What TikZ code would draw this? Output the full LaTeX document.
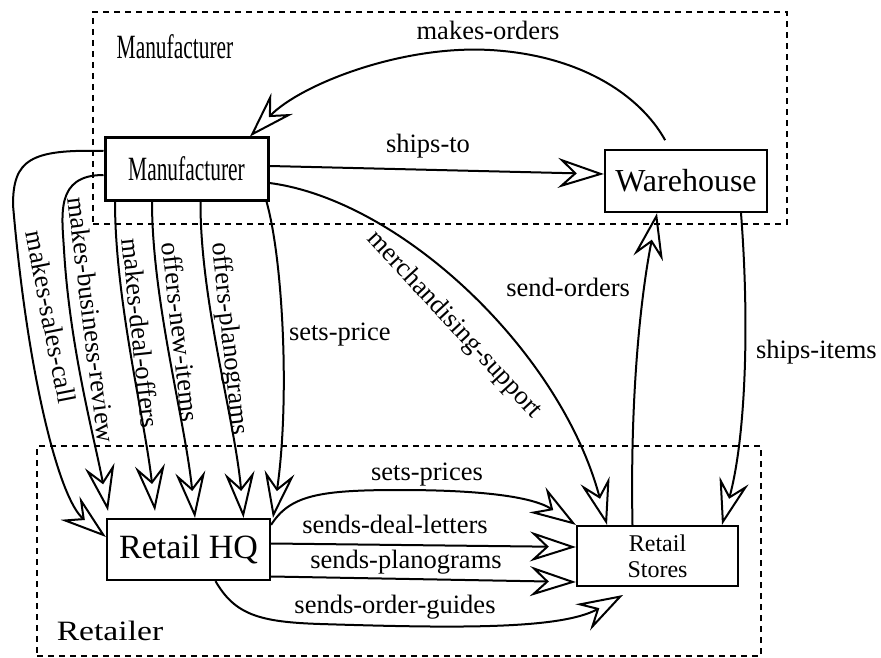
\documentclass[tikz,border=0pt]{standalone}
\usepackage{fontspec}
\usepackage{graphicx}
\setmainfont{Liberation Serif}
\usetikzlibrary{arrows.meta}

\begin{document}
\begin{tikzpicture}[x=1pt,y=-1pt,
  box/.style={draw, line width=2.2pt, inner sep=0pt},
  group/.style={draw, line width=2pt, dash pattern=on 6pt off 5pt, inner sep=0pt},
  flow/.style={line width=2pt,
    -{Stealth[open, length=46pt, width=30pt, inset=16pt, line width=2pt]}},
  lbl/.style={font=\fontsize{26.5}{30}\selectfont, inner sep=0pt},
  condensed/.style={font=\fontsize{34}{40}\selectfont},
]
\useasboundingbox (0,0) rectangle (881,658);

% organisation boundaries
\node[group, minimum width=694pt, minimum height=212pt] (mgroup) at (440,118) {};
\node[group, minimum width=724pt, minimum height=210pt] (rgroup) at (399,551) {};
\node[condensed] (mtitle) at (175,47) {\scalebox{0.63}[1]{Manufacturer}};
\node[font=\fontsize{28}{32}\selectfont] (rtitle) at (110,631) {\scalebox{1.2}[1]{Retailer}};

% actors
\node[box, line width=3pt, minimum width=163pt, minimum height=62pt, condensed]
  (mfr) at (186.5,169) {\scalebox{0.63}[1]{Manufacturer}};
\node[box, minimum width=162pt, minimum height=62pt, font=\fontsize{32}{36}\selectfont]
  (wh) at (686,181) {Warehouse};
\node[box, minimum width=163pt, minimum height=61pt, font=\fontsize{34}{38}\selectfont]
  (hq) at (188.5,549.5) {Retail HQ};
\node[box, minimum width=161pt, minimum height=60pt, align=center, font=\fontsize{24}{26}\selectfont]
  (rs) at (657.5,556) {Retail\\Stores};
\coordinate (og) at (623,595);

% manufacturer side
\draw[flow, shorten <=10pt] ([xshift=-16pt]wh.north) .. controls (640,95) and (580,55) .. (490,50)
  .. controls (400,45) and (300,85) .. ([xshift=63.5pt]mfr.north)
  node[lbl, anchor=base] (l1) at (488,40) {makes-orders};
\draw[flow] ([yshift=3pt]mfr.east) -- ([yshift=7pt]wh.west)
  node[lbl, anchor=base] (l2) at (428,153) {ships-to};
\draw[flow] ([yshift=-14pt]mfr.east) .. controls (400,200) and (560,350) .. ([xshift=-50.5pt]rs.north)
  node[lbl, rotate=-47.2] (l3) at (454,325) {merchandising-support};

% manufacturer to retail headquarters
\draw[flow] ([xshift=80pt]mfr.south) .. controls (283,260) and (290,400) .. ([xshift=84.5pt]hq.north)
  node[lbl, anchor=base west] (l4) at (288,340) {sets-price};
\draw[flow] ([xshift=14pt]mfr.south) .. controls (200,300) and (235,420) .. ([xshift=55pt]hq.north)
  node[lbl, rotate=-83.8] (l5) at (229,339) {offers-planograms};
\draw[flow] ([xshift=-34.5pt]mfr.south) .. controls (152,300) and (185,420) .. ([xshift=6.5pt]hq.north)
  node[lbl, rotate=-83.6] (l6) at (181,332) {offers-new-items};
\draw[flow] ([xshift=-71.5pt]mfr.south) .. controls (115,300) and (145,420) .. ([xshift=-33.5pt,yshift=7pt]hq.north)
  node[lbl, rotate=-84] (l7) at (141,333) {makes-deal-offers};
\draw[flow] ([yshift=-6pt]mfr.west) .. controls (55,175) and (62,215) .. (64,250)
  .. controls (70,350) and (95,440) .. ([xshift=-80.5pt,yshift=7pt]hq.north)
  node[lbl, rotate=-83] (l8) at (92,320) {makes-business-review};
\draw[flow] ([yshift=18pt]mfr.west) .. controls (30,149) and (13,160) .. (13,205)
  .. controls (28,380) and (60,500) .. ([yshift=12.5pt]hq.west)
  node[lbl, rotate=-79] (l9) at (51,317) {makes-sales-call};

% retail headquarters to stores
\draw[flow] ([yshift=-7pt]hq.north east) .. controls (290,495) and (320,490) .. (400,490)
  .. controls (470,490) and (530,495) .. (rs.north west)
  node[lbl, anchor=base] (l10) at (427,480) {sets-prices};
\draw[flow] ([yshift=6pt]hq.east) -- ([yshift=9pt]rs.west)
  node[lbl, anchor=base] (l11) at (395,533) {sends-deal-letters};
\draw[flow] ([yshift=-27pt]hq.east) -- ([yshift=-26pt]rs.west)
  node[lbl, anchor=base] (l12) at (406,568) {sends-planograms};
\draw[flow] ([xshift=27pt]hq.south) .. controls (235,615) and (260,622) .. (320,624)
  .. controls (450,628) and (560,630) .. (og)
  node[lbl, anchor=base] (l13) at (395,613) {sends-order-guides};

% stores and warehouse
\draw[flow] ([xshift=-25pt]rs.north) .. controls (630,400) and (640,300) .. ([xshift=-29pt]wh.south)
  node[lbl, anchor=base east] (l14) at (631,296) {send-orders};
\draw[flow] ([xshift=55pt]wh.south) .. controls (750,330) and (745,440) .. ([xshift=64.5pt]rs.north)
  node[lbl, anchor=base west] (l15) at (755,358) {ships-items};
\end{tikzpicture}
\end{document}
